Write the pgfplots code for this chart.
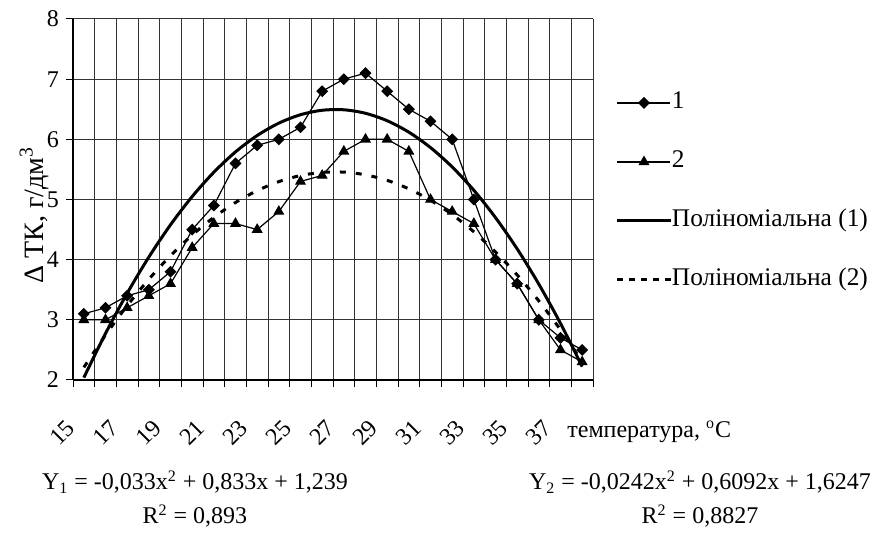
\documentclass[12pt,border=0pt]{standalone}
\usepackage{fontspec}
\setmainfont{Liberation Serif}
\usepackage{pgfplots}
\usepackage{pgfplotstable}
\pgfplotsset{compat=1.18}

% t: temperature, s1/s2: measured series, f1/f2: quadratic trend values
\pgfplotstableread{
t  s1  s2  f1    f2
15 3.1 3.0 2.039 2.210
16 3.2 3.0 2.773 2.746
17 3.4 3.2 3.441 3.235
18 3.5 3.4 4.043 3.674
19 3.8 3.6 4.579 4.066
20 4.5 4.2 5.049 4.409
21 4.9 4.6 5.453 4.703
22 5.6 4.6 5.791 4.950
23 5.9 4.5 6.063 5.147
24 6.0 4.8 6.269 5.297
25 6.2 5.3 6.409 5.398
26 6.8 5.4 6.483 5.450
27 7.0 5.8 6.491 5.455
28 7.1 6.0 6.433 5.410
29 6.8 6.0 6.309 5.318
30 6.5 5.8 6.119 5.177
31 6.3 5.0 5.863 4.987
32 6.0 4.8 5.541 4.750
33 5.0 4.6 5.153 4.463
34 4.0 4.0 4.699 4.129
35 3.6 3.6 4.179 3.746
36 3.0 3.0 3.593 3.314
37 2.7 2.5 2.941 2.835
38 2.5 2.3 2.223 2.306
}\ddata

\begin{document}
\begin{tikzpicture}
\path[use as bounding box] (-36.5pt,-79.5pt) rectangle (403pt,190pt);
\begin{axis}[
  at={(0pt,0pt)}, anchor=south west,
  scale only axis, width=260pt, height=180.5pt,
  xmin=14.5, xmax=38.5, ymin=2, ymax=8,
  % category boundaries carry the ticks and the vertical grid
  xtick={14.5,15.5,...,38.5}, xticklabels={},
  ytick={2,3,...,8},
  axis lines*=left, axis line style={-, black, line width=0.6pt},
  tick align=outside, major tick length=3.5pt,
  tick style={black, line width=0.5pt},
  xmajorgrids, ymajorgrids,
  major grid style={black!80, line width=0.5pt},
  /pgf/number format/assume math mode=true,
  yticklabel style={anchor=east, inner sep=0pt, xshift=-3.3pt},
  % category names, every second one
  extra x ticks={15,17,...,37},
  extra x tick labels={15,17,19,21,23,25,27,29,31,33,35,37},
  extra x tick style={grid=none, major tick length=0pt,
    xticklabel style={inner sep=0pt, xshift=-6.5pt, yshift=-22pt, rotate=45, anchor=east}},
  legend cell align=left,
  legend image code/.code={\draw[mark repeat=2,mark phase=2,#1]
    plot coordinates {(0pt,0pt) (13.25pt,0pt) (26.5pt,0pt)};},
  legend style={draw=none, fill=none, inner sep=0pt, outer sep=0pt,
    at={(axis description cs:1.0442,0.798)}, anchor=north west,
    row sep=18.5pt, font=\fontsize{12.7}{15}\selectfont,
    nodes={inner sep=0pt, text height=8.5pt, text depth=2.5pt},
    /tikz/every even column/.append style={column sep=2.5pt}},
]
\addplot[black, line width=0.6pt, mark=square*, mark size=1.8pt,
  mark options={rotate=45, solid}] table[x=t, y=s1] {\ddata};
\addlegendentry{1}
\addplot[black, line width=0.6pt, mark=triangle*, mark size=2.6pt,
  mark options={solid}] table[x=t, y=s2] {\ddata};
\addlegendentry{2}
\addplot[black, line width=1.5pt, smooth, no marks] table[x=t, y=f1] {\ddata};
\addlegendentry{Поліноміальна (1)}
\addplot[black, line width=1.5pt, smooth, no marks, dash pattern=on 3pt off 5pt,
  legend image post style={dash pattern=on 3pt off 2.9pt}] table[x=t, y=f2] {\ddata};
\addlegendentry{Поліноміальна (2)}
\end{axis}
\node[rotate=90, font=\fontsize{14}{16}\selectfont] at (-19.5pt,82.5pt) {Δ ТК, г/дм\textsuperscript{3}};
\node[anchor=west] at (243pt,-26pt) {температура, \textsuperscript{o}C};
\node[anchor=base] at (61pt,-55pt) {Y\textsubscript{1} = -0,033x\textsuperscript{2} + 0,833x + 1,239};
\node[anchor=base] at (61pt,-72pt) {R\textsuperscript{2} = 0,893};
\node[anchor=base] at (313.5pt,-55pt) {Y\textsubscript{2} = -0,0242x\textsuperscript{2} + 0,6092x + 1,6247};
\node[anchor=base] at (313.5pt,-72pt) {R\textsuperscript{2} = 0,8827};
\end{tikzpicture}
\end{document}
